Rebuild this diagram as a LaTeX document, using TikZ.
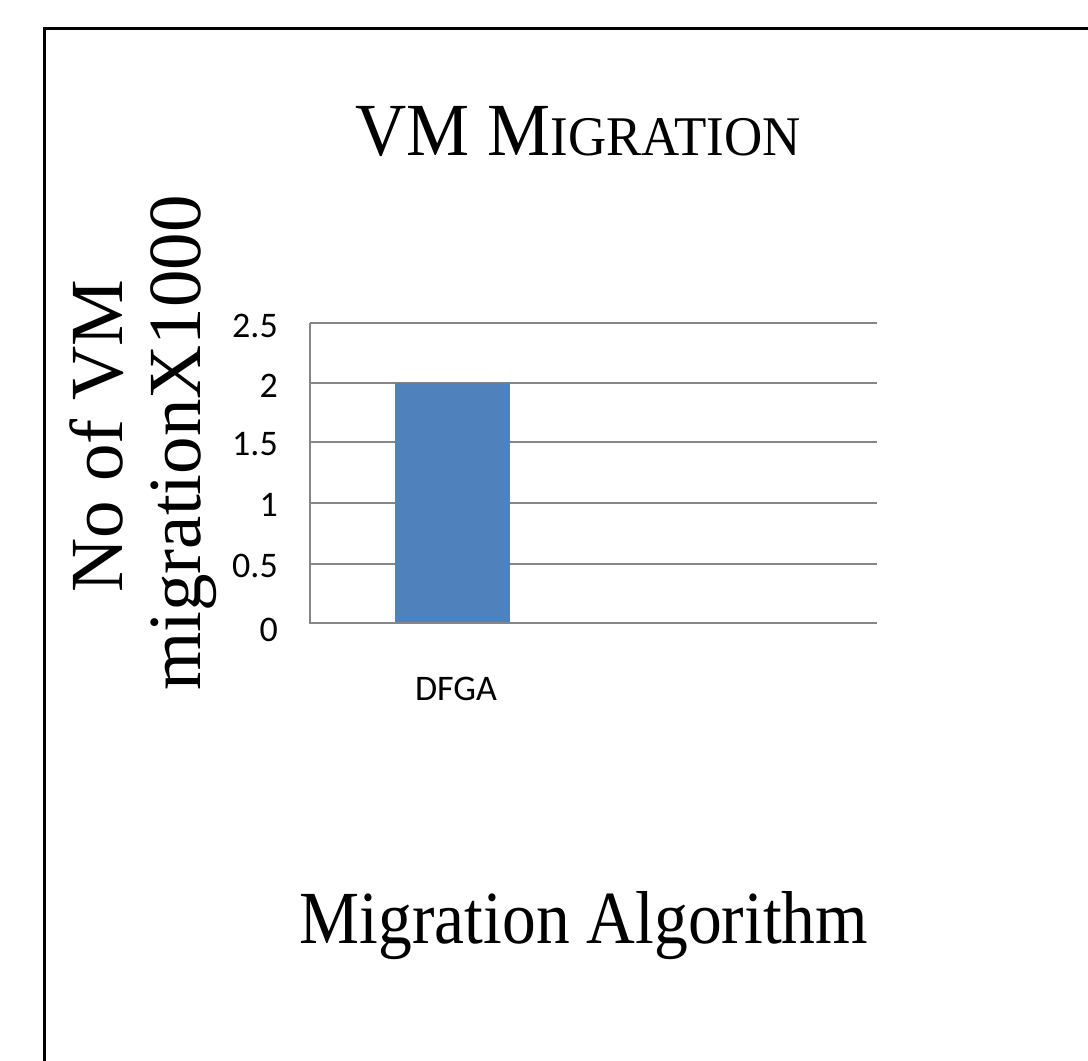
\documentclass[tikz,border=0pt]{standalone}
\usepackage{fontspec}
\setmainfont{Liberation Serif}
\newfontfamily\calib{Carlito}
\definecolor{barblue}{HTML}{4F81BD}
\definecolor{gridgray}{HTML}{868686}
\begin{document}
\begin{tikzpicture}[x=1pt,y=-1pt,
  grid/.style={draw=gridgray,line width=2pt},
  ticklab/.style={anchor=east,font=\calib\fontsize{36}{40}\selectfont,inner sep=0pt},
  bigtext/.style={font=\fontsize{75}{80}\selectfont,inner sep=0pt}]
\useasboundingbox (0,0) rectangle (1088,1061);
\fill[white] (0,0) rectangle (1088,1061);
% frame
\coordinate (fb) at (44,1070);
\coordinate (fc) at (44,28);
\coordinate (fr) at (1100,28);
\draw[line width=3pt,line join=miter] (fb) -- (fc) -- (fr);
% title
\node[bigtext,anchor=base,xscale=0.945] (title) at (578,155)
  {VM M{\fontsize{56}{60}\selectfont IGRATION}};
% grid
\foreach \i/\y in {1/564,2/503,3/442,4/383,5/323}{
  \coordinate (gl\i) at (310,\y);
  \coordinate (gr\i) at (877,\y);
  \draw[grid] (gl\i) -- (gr\i);
}
% bar
\fill[barblue] (395,383) rectangle (510,623);
% axes
\coordinate (o) at (310,623);
\coordinate (xr) at (877,623);
\coordinate (yt) at (310,323);
\draw[grid] (yt) -- (o) -- (xr);
% tick labels
\foreach \i/\v/\y in {0/0/630,1/0.5/566,2/1/505,3/1.5/444,4/2/386,5/2.5/326}{
  \node[ticklab] (t\i) at (278,\y) {\v};
}
\node[font=\calib\fontsize{36}{40}\selectfont,anchor=base,inner sep=0pt] (dfga) at (456,700) {DFGA};
% y label
\node[bigtext,anchor=base,rotate=90] (yl1) at (122,436) {No of VM};
\node[bigtext,anchor=base,rotate=90] (yl2) at (200,443) {migrationX1000};
% x label
\node[bigtext,anchor=base,xscale=0.9] (xl) at (584,943) {Migration Algorithm};
\end{tikzpicture}
\end{document}
